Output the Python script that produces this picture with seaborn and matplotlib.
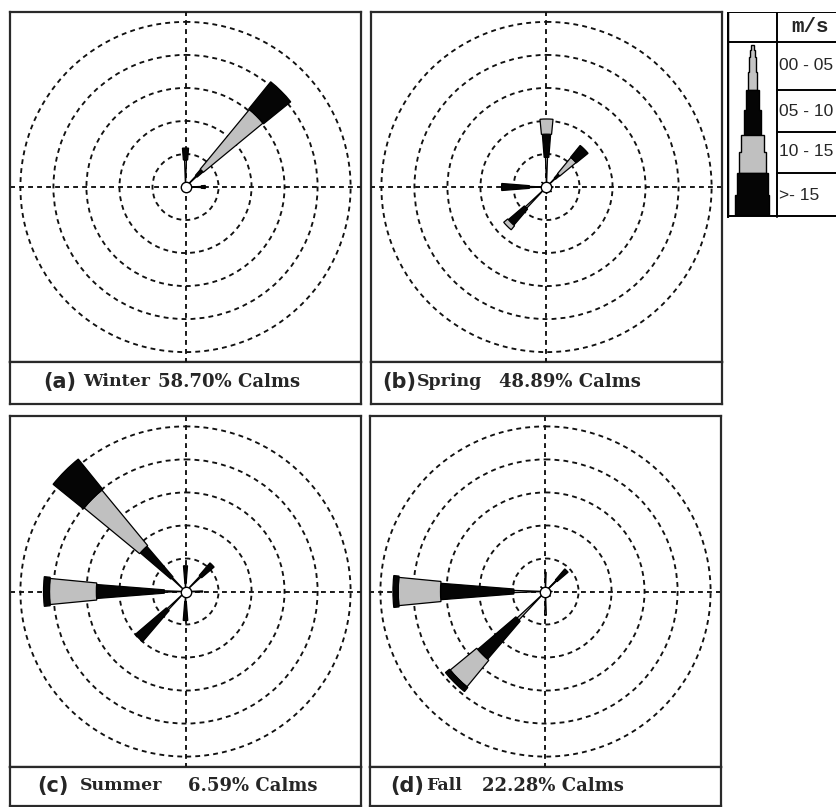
"""
Seasonal wind roses (winter, spring, summer, fall) with a speed-class legend table.
"""

import numpy as np
import pandas as pd
import matplotlib
matplotlib.use("Agg")
import matplotlib.pyplot as plt
from matplotlib.patches import Polygon
import seaborn as sns

# Wind directions (clockwise from north) and speed classes (m/s)
directions = ["N", "NE", "E", "SE", "S", "SW", "W", "NW"]
direction_deg = [0, 45, 90, 135, 180, 225, 270, 315]
speed_classes = ["00 - 05", "05 - 10", "10 - 15", ">- 15"]

# Frequency (%) per direction for each speed class
winter_00_05 = [4.1, 2.3, 2.4, 0.0, 0.0, 0.0, 0.0, 0.0]
winter_05_10 = [1.8, 1.2, 0.6, 0.0, 0.0, 0.0, 0.0, 0.0]
winter_10_15 = [0.0, 11.7, 0.0, 0.0, 0.0, 0.0, 0.0, 0.0]
winter_15_up = [0.0, 5.3, 0.0, 0.0, 0.0, 0.0, 0.0, 0.0]

spring_00_05 = [4.5, 1.8, 1.0, 1.0, 1.0, 4.4, 2.6, 1.0]
spring_05_10 = [3.5, 0.8, 0.0, 0.0, 0.0, 3.2, 4.2, 0.0]
spring_10_15 = [2.3, 3.2, 0.0, 0.0, 0.0, 0.8, 0.0, 0.0]
spring_15_up = [0.0, 2.3, 0.0, 0.0, 0.0, 0.0, 0.0, 0.0]

summer_00_05 = [1.2, 3.2, 2.6, 0.0, 1.5, 3.8, 3.2, 2.9]
summer_05_10 = [2.7, 2.5, 0.0, 0.0, 2.9, 6.2, 10.3, 6.1]
summer_10_15 = [0.0, 0.0, 0.0, 0.0, 0.0, 0.0, 7.1, 10.9]
summer_15_up = [0.0, 0.0, 0.0, 0.0, 0.0, 0.0, 0.9, 5.9]

fall_00_05 = [2.9, 2.3, 1.0, 1.0, 3.6, 5.9, 4.8, 1.0]
fall_05_10 = [0.0, 2.2, 0.0, 0.0, 0.0, 7.6, 11.1, 0.0]
fall_10_15 = [0.0, 0.0, 0.0, 0.0, 0.0, 5.2, 6.4, 0.0]
fall_15_up = [0.0, 0.0, 0.0, 0.0, 0.0, 0.8, 0.8, 0.0]

seasons = ["Winter", "Spring", "Summer", "Fall"]
panel_letters = ["(a)", "(b)", "(c)", "(d)"]
calms = ["58.70% Calms", "48.89% Calms", "6.59% Calms", "22.28% Calms"]

season_values = {
    "Winter": [winter_00_05, winter_05_10, winter_10_15, winter_15_up],
    "Spring": [spring_00_05, spring_05_10, spring_10_15, spring_15_up],
    "Summer": [summer_00_05, summer_05_10, summer_10_15, summer_15_up],
    "Fall": [fall_00_05, fall_05_10, fall_10_15, fall_15_up],
}

# Styling per speed class
class_colors = ["#c4c4c4", "#050505", "#c0c0c0", "#050505"]
class_widths_deg = [4, 9, 11, 12]

W, H = 837, 807


def fig_rect(x0, y0, x1, y1):
    """Convert a pixel box (top-left origin) to a figure-fraction rect."""
    return [x0 / W, 1 - y1 / H, (x1 - x0) / W, (y1 - y0) / H]


def build_frame():
    """Long-format table of the wind rose data."""
    rows = []
    for season in seasons:
        for k, cls in enumerate(speed_classes):
            for d, deg, v in zip(directions, direction_deg, season_values[season][k]):
                rows.append({"season": season, "speed": cls, "direction": d,
                             "deg": deg, "freq": v, "order": k})
    return pd.DataFrame(rows)


def draw_box(rect):
    ax = plt.gcf().add_axes(rect)
    ax.set_xticks([])
    ax.set_yticks([])
    for s in ax.spines.values():
        s.set_linewidth(1.6)
        s.set_color("#2a2a2a")
    return ax


def draw_rose(fig, rect, df_season):
    ax = fig.add_axes(rect, projection="polar")
    ax.set_theta_zero_location("N")
    ax.set_theta_direction(-1)
    ax.patch.set_alpha(0)
    ax.spines["polar"].set_visible(False)
    ax.set_ylim(0, 26.5)
    ax.set_yticks([5, 10, 15, 20, 25])
    ax.set_xticks(np.deg2rad([0, 90, 180, 270]))
    ax.set_yticklabels([])
    ax.set_xticklabels([])
    ax.grid(True, color="#111111", linestyle=(0, (2.6, 2.2)), linewidth=1.35)
    ax.set_axisbelow(True)

    bottoms = np.zeros(len(directions))
    for k in range(len(speed_classes)):
        part = df_season[df_season["order"] == k].sort_values("deg")
        vals = part["freq"].to_numpy()
        mask = vals > 0
        ax.bar(np.deg2rad(part["deg"].to_numpy()[mask]), vals[mask],
               width=np.deg2rad(class_widths_deg[k]), bottom=bottoms[mask],
               color=class_colors[k], edgecolor="black", linewidth=0.9,
               align="center", zorder=3)
        bottoms += vals
    ax.plot([0], [0], "o", ms=7.5, mfc="white", mec="black", mew=1.0,
            zorder=6, clip_on=False)
    return ax


def draw_legend(fig):
    ax = fig.add_axes(fig_rect(727, 12, 837, 218))
    ax.set_xlim(727, 837)
    ax.set_ylim(218, 12)
    ax.axis("off")
    lw = 1.4
    # table lines
    ax.plot([728, 728], [12, 217], color="black", lw=lw + 0.4)
    ax.plot([777, 777], [12, 217], color="black", lw=lw)
    ax.plot([727, 837], [12.5, 12.5], color="black", lw=lw)
    ax.plot([727, 837], [42, 42], color="black", lw=lw)
    ax.plot([727, 837], [216.5, 216.5], color="black", lw=lw)
    for y in [90, 132, 173]:
        ax.plot([777, 837], [y, y], color="black", lw=lw)
    ax.text(810, 27, "m/s", ha="center", va="center", fontsize=15,
            fontweight="bold", family="Liberation Mono")
    for label, y in zip(speed_classes, [65, 111, 152, 195]):
        ax.text(779, y, label, ha="left", va="center", fontsize=12.5,
                family="Liberation Sans")

    # stepped petal glyph
    cx = 752.3
    steps = [
        [(45, 50, 1.2), (50, 57, 2.4), (57, 72, 3.3), (72, 90, 4.2)],
        [(90, 110, 6.8), (110, 135, 8.6)],
        [(135, 152, 11.5), (152, 173, 13.3)],
        [(173, 195, 15.5), (195, 215, 17.0)],
    ]
    for k, seg in enumerate(steps):
        left = []
        right = []
        for y0, y1, hw in seg:
            right += [(cx + hw, y0), (cx + hw, y1)]
            left += [(cx - hw, y0), (cx - hw, y1)]
        pts = right + left[::-1]
        ax.add_patch(Polygon(pts, closed=True, facecolor=class_colors[k],
                             edgecolor="black", lw=1.0))


def main():
    sns.set_style("white")
    plt.rcParams["font.family"] = ["DejaVu Sans"]

    df = build_frame()
    fig = plt.figure(figsize=(W / 100, H / 100), dpi=100)

    # pixel layout: plot area and caption area per panel
    plots = [(10, 12, 361, 362), (371, 12, 722, 362),
             (10, 416, 361, 767), (370, 416, 721, 767)]
    captions = [(10, 362, 361, 404), (371, 362, 722, 404),
                (10, 767, 361, 806), (370, 767, 721, 806)]
    text_x = [(43, 83, 158), (382, 417, 499), (37, 80, 188), (390, 426, 482)]
    text_y = [382, 382, 786, 786]

    for i, season in enumerate(seasons):
        draw_box(fig_rect(*plots[i]))
        draw_box(fig_rect(*captions[i]))
        x0, y0, x1, y1 = plots[i]
        draw_rose(fig, fig_rect(x0 + 0.5, y0, x1 - 0.5, y1),
                  df[df["season"] == season])
        xa, xb, xc = text_x[i]
        fy = 1 - text_y[i] / H
        fig.text(xa / W, fy, panel_letters[i], ha="left", va="center",
                 fontsize=15, fontweight="bold", family="DejaVu Sans")
        fig.text(xb / W, fy, season, ha="left", va="center",
                 fontsize=12.5, fontweight="bold", family="DejaVu Serif")
        fig.text(xc / W, fy, calms[i], ha="left", va="center",
                 fontsize=13, fontweight="bold", family="DejaVu Serif")

    draw_legend(fig)

    fig.savefig("out.png", dpi=100)


if __name__ == "__main__":
    main()
